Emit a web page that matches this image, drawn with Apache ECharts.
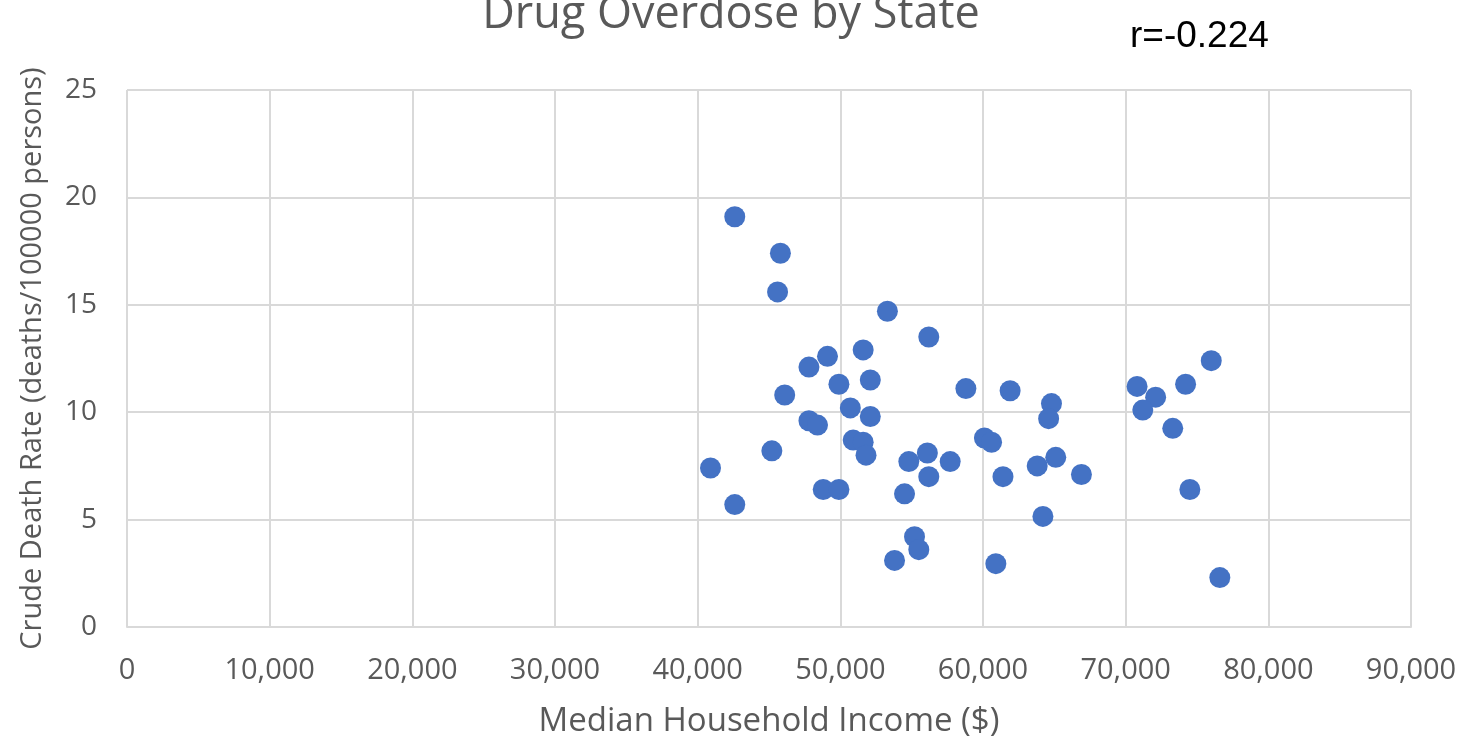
<!DOCTYPE html>
<html><head><meta charset="utf-8">
<script src="https://cdn.jsdelivr.net/npm/echarts@6/dist/echarts.min.js"></script>
<style>html,body{margin:0;padding:0;background:#fff}#c{width:1462px;height:743px}</style>
</head><body><div id="c"></div>
<script>
const chartTitle = 'Drug Overdose by State';
const corrLabel = 'r=-0.224';
const xAxisTitle = 'Median Household Income ($)';
const yAxisTitle = 'Crude Death Rate (deaths/100000 persons)';
const incomes = [42600,45800,45600,53300,56200,51600,49100,47800,52100,49900,46100,58800,61900,64800,64600,50700,52100,47800,48400,50900,51600,51800,45200,40900,42600,48800,49900,54800,56100,57700,56200,54500,55200,55500,53800,60100,60600,61400,60900,63800,65100,66900,64200,70800,72100,71200,74200,76000,73300,74500,76600];
const deathRates = [19.1,17.4,15.6,14.7,13.5,12.9,12.6,12.1,11.5,11.3,10.8,11.1,11.0,10.4,9.7,10.2,9.8,9.6,9.4,8.7,8.6,8.0,8.2,7.4,5.7,6.4,6.4,7.7,8.1,7.7,7.0,6.2,4.2,3.6,3.1,8.8,8.6,7.0,2.95,7.5,7.9,7.1,5.15,11.2,10.7,10.1,11.3,12.4,9.25,6.4,2.3];

const chart = echarts.init(document.getElementById('c'));
const gray = '#595959';
const font = 'Open Sans';
chart.setOption({
  animation: false,
  backgroundColor: '#fff',
  title: { text: chartTitle, left: 'center', top: -12,
    textStyle: { fontFamily: font, fontSize: 45, fontWeight: 'normal', color: gray } },
  graphic: [{ type: 'text', left: 1130, top: 18,
    style: { text: corrLabel, fontFamily: 'Liberation Sans', fontSize: 37, fill: '#000' } }],
  grid: { left: 127, right: 51, top: 90, bottom: 116, containLabel: false },
  xAxis: {
    type: 'value', min: 0, max: 90000, interval: 10000,
    name: xAxisTitle, nameLocation: 'middle', nameGap: 78,
    nameTextStyle: { fontFamily: font, fontSize: 33, color: gray },
    axisLine: { show: true, lineStyle: { color: '#d9d9d9', width: 2 } },
    axisTick: { show: false },
    splitLine: { show: true, lineStyle: { color: '#d9d9d9', width: 2 } },
    axisLabel: { margin: 29, fontFamily: font, fontSize: 29, color: gray,
      formatter: v => v.toLocaleString('en-US') }
  },
  yAxis: {
    type: 'value', min: 0, max: 25, interval: 5,
    name: yAxisTitle, nameLocation: 'middle', nameGap: 80, nameRotate: 90,
    nameTextStyle: { fontFamily: font, fontSize: 29, color: gray },
    axisLine: { show: false },
    axisTick: { show: false },
    splitLine: { show: true, lineStyle: { color: '#d9d9d9', width: 2 } },
    axisLabel: { margin: 30, fontFamily: font, fontSize: 28, color: gray }
  },
  series: [{
    type: 'scatter', symbolSize: 21,
    itemStyle: { color: '#4472C4', opacity: 1 },
    data: incomes.map((x, i) => [x, deathRates[i]])
  }]
});
</script></body></html>
